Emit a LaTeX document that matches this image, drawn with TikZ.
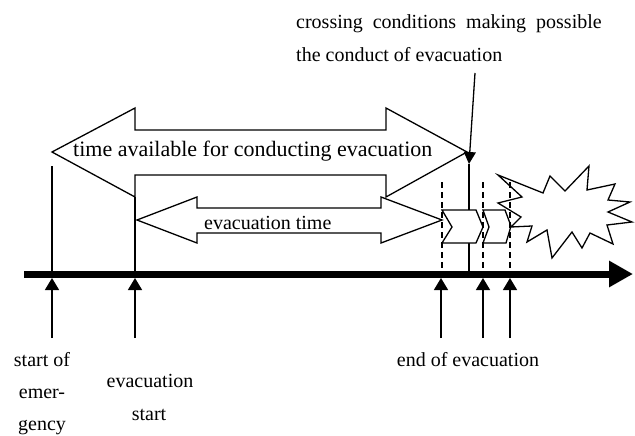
\documentclass[tikz,border=0pt]{standalone}
\usepackage{fontspec}
\setmainfont{Liberation Serif}
\usetikzlibrary{arrows.meta}
\begin{document}
\begin{tikzpicture}[x=1pt,y=-1pt,
  thin line/.style={line width=1.3pt, line join=miter},
  shape line/.style={line width=1.3pt, line join=miter, fill=white},
  dash line/.style={line width=1.3pt, dash pattern=on 6pt off 4pt},
  uparrow/.style={line width=1.3pt, -{Triangle[width=14pt,length=12pt]}},
  label/.style={font=\fontsize{20}{24}\selectfont, inner sep=0pt},
  biglabel/.style={font=\fontsize{22}{26}\selectfont, inner sep=0pt}]
\useasboundingbox (0,0) rectangle (635,436);

% named coordinates
\coordinate (axL) at (24,274);
\coordinate (axR) at (633,274);
\coordinate (e1) at (52,166);
\coordinate (e1a) at (52,274);
\coordinate (s1) at (135,197);
\coordinate (s1a) at (135,274);
\coordinate (cTop) at (475,73);
\coordinate (cTip) at (469,164);
\coordinate (cAx) at (469,272);

% big double arrow
\draw[shape line] (52,152) -- (135,108) -- (135,130) -- (386,130) -- (386,108)
  -- (467,152) -- (386,197) -- (386,175) -- (135,175) -- (135,197) -- cycle;
% small double arrow
\draw[shape line] (137,220) -- (197,197) -- (197,208) -- (381,208) -- (381,197)
  -- (442,220) -- (381,243) -- (381,233) -- (197,233) -- (197,243) -- cycle;

% vertical lines above axis
\draw[thin line] (e1) -- (e1a);
\draw[thin line] (s1) -- (s1a);

% crossing line
\draw[line width=1.3pt, -{Triangle[width=12pt,length=12pt]}] (cTop) -- (cTip);
\draw[thin line] (cTip) -- (cAx);

% star
\draw[shape line] (498,175) -- (543,193) -- (550,176) -- (565,191) -- (589,166)
  -- (587,190) -- (615,184) -- (608,200) -- (630,202) -- (608,212) -- (632,222)
  -- (607,225) -- (613,244) -- (590,233) -- (582,248) -- (572,232) -- (552,258)
  -- (547,230) -- (527,242) -- (532,226) -- (511,227) -- (521,217) -- (498,203)
  -- (522,197) -- cycle;

% chevrons
\draw[shape line] (442,210) -- (476,210) -- (483,227) -- (476,243) -- (442,243) -- (452,227) -- cycle;
\draw[shape line] (483,210) -- (505,210) -- (511,226) -- (506,243) -- (483,243) -- (489,227) -- cycle;

% dashed lines
\foreach \x in {442,483,510} \draw[dash line] (\x,182) -- (\x,271);

% axis
\draw[line width=7pt, -{Triangle[width=25pt,length=24pt]}] (axL) -- (axR);

% up arrows
\foreach \x/\n in {52/u1,135/u2,441/u3,483/u4,510/u5} {
  \coordinate (\n b) at (\x,338);
  \coordinate (\n t) at (\x,278);
  \draw[uparrow] (\n b) -- (\n t);
}

% labels
\node[label, anchor=base west] (top1) at (296,29) {crossing\ \ conditions\ \ making\ \ possible};
\node[label, anchor=base west] (top2) at (296,62) {the conduct of evacuation};
\node[biglabel, anchor=base west] (tav) at (73,157) {time available for conducting evacuation};
\node[label, anchor=base west] (evt) at (204,229) {evacuation time};
\node[label, anchor=base] (se1) at (42,366) {start of};
\node[label, anchor=base] (se2) at (42,398) {emer-};
\node[label, anchor=base] (se3) at (42,430) {gency};
\node[label, anchor=base] (es1) at (150,387) {evacuation};
\node[label, anchor=base] (es2) at (149,420) {start};
\node[label, anchor=base] (ee) at (468,366) {end of evacuation};
\end{tikzpicture}
\end{document}
